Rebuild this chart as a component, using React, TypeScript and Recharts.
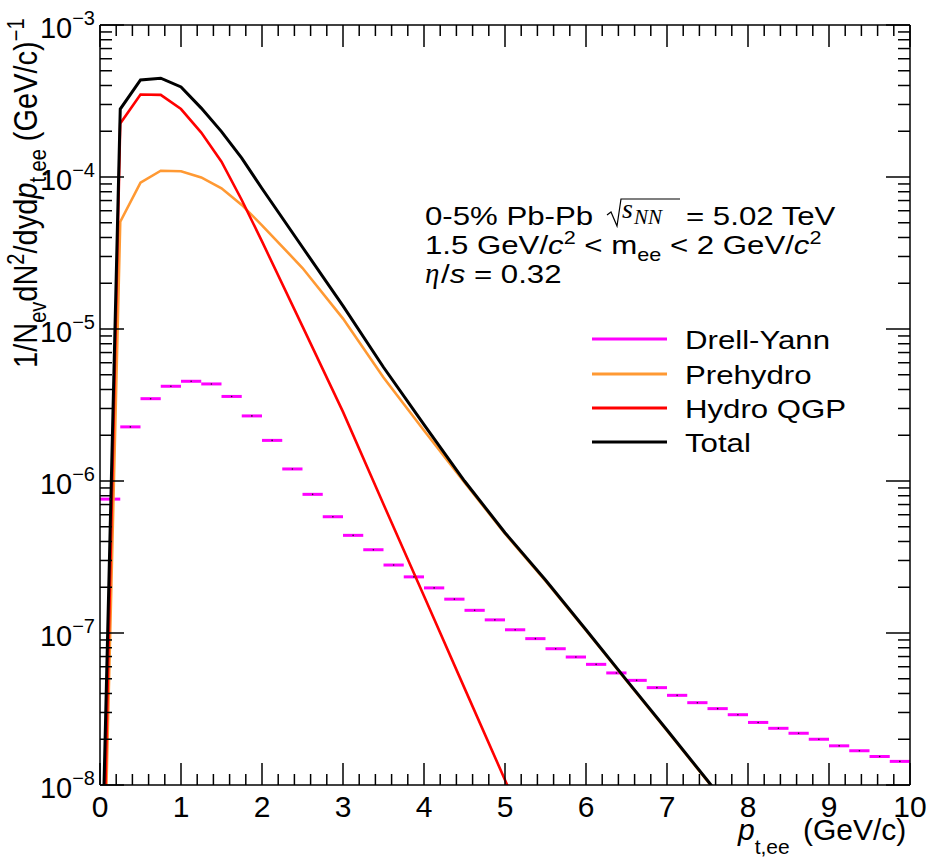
import React from "react";
import { ComposedChart, Line, Scatter, ErrorBar, XAxis, YAxis } from "recharts";

// Drell-Yan histogram: bin centres (0.25 GeV/c bins) and yields
const dyPt = [
  0.125, 0.375, 0.625, 0.875, 1.125, 1.375, 1.625, 1.875, 2.125, 2.375,
  2.625, 2.875, 3.125, 3.375, 3.625, 3.875, 4.125, 4.375, 4.625, 4.875,
  5.125, 5.375, 5.625, 5.875, 6.125, 6.375, 6.625, 6.875, 7.125, 7.375,
  7.625, 7.875, 8.125, 8.375, 8.625, 8.875, 9.125, 9.375, 9.625, 9.875,
];
const dyYield = [
  7.6e-7, 2.27e-6, 3.48e-6, 4.2e-6, 4.53e-6, 4.35e-6, 3.6e-6, 2.68e-6, 1.85e-6, 1.2e-6,
  8.17e-7, 5.82e-7, 4.39e-7, 3.53e-7, 2.8e-7, 2.34e-7, 1.98e-7, 1.67e-7, 1.41e-7, 1.22e-7,
  1.05e-7, 9.18e-8, 7.88e-8, 6.95e-8, 6.22e-8, 5.46e-8, 4.88e-8, 4.37e-8, 3.89e-8, 3.48e-8,
  3.18e-8, 2.9e-8, 2.58e-8, 2.36e-8, 2.19e-8, 2.0e-8, 1.81e-8, 1.68e-8, 1.54e-8, 1.43e-8,
];
const dyHalfBin = 0.125;

// smooth curves
const curvePt = [0, 0.25, 0.5, 0.75, 1, 1.25, 1.5, 1.75, 2, 2.5, 3, 3.5, 4, 4.5, 5, 5.5, 6, 6.5, 7, 7.5, 8];
const prehydro = [
  1.8e-10, 5.08e-5, 9.18e-5, 1.1e-4, 1.09e-4, 9.93e-5, 8.43e-5, 6.55e-5, 4.81e-5, 2.52e-5,
  1.17e-5, 4.8e-6, 2.15e-6, 9.8e-7, 4.5e-7, 2.2e-7, 1.04e-7, 4.85e-8, 2.28e-8, 1.06e-8, 4.8e-9,
];
const hydroQGP = [
  2.4e-10, 2.25e-4, 3.49e-4, 3.47e-4, 2.8e-4, 1.96e-4, 1.26e-4, 7.06e-5, 3.77e-5, 1.04e-5,
  2.85e-6, 7.03e-7, 1.75e-7, 4.34e-8, 1.08e-8, 2.6e-9,
];
const total = [
  8e-10, 2.8e-4, 4.35e-4, 4.47e-4, 3.91e-4, 2.84e-4, 1.99e-4, 1.33e-4, 8.4e-5, 3.45e-5,
  1.42e-5, 5.6e-6, 2.35e-6, 1.0e-6, 4.57e-7, 2.23e-7, 1.05e-7, 4.9e-8, 2.3e-8, 1.07e-8, 4.9e-9,
];

const xTicks = Array.from({ length: 51 }, (_, i) => (i * 2) / 10);
const yTicks: number[] = [];
for (let e = -8; e < -3; e++) {
  for (let m = 1; m <= 9; m++) yTicks.push(Number((m * Math.pow(10, e)).toPrecision(6)));
}
yTicks.push(1e-3);

const toPoints = (xs: number[], ys: number[]) => ys.map((y, i) => ({ x: xs[i], y }));
const dyData = dyPt.map((x, i) => ({ x, y: dyYield[i], ex: dyHalfBin }));

const SANS = "'Liberation Sans', Arial, Helvetica, sans-serif";
const SERIF = "'Liberation Serif', 'Times New Roman', serif";

const isDecade = (v: number) => {
  const l = Math.log10(v);
  return Math.abs(l - Math.round(l)) < 1e-6;
};
const isInt = (v: number) => Math.abs(v - Math.round(v)) < 1e-6;

const BottomTick = (props: any) => {
  const { x, y, payload } = props;
  const major = isInt(payload.value);
  return (
    <g>
      <line x1={x} y1={y} x2={x} y2={y - (major ? 22 : 11)} stroke="#000" strokeWidth={1.5} />
      {major && (
        <text x={x} y={y + 32} textAnchor="middle" fontSize={30} fontFamily={SANS} fill="#000">
          {Math.round(payload.value)}
        </text>
      )}
    </g>
  );
};

const TopTick = (props: any) => {
  const { x, y, payload } = props;
  const major = isInt(payload.value);
  return <line x1={x} y1={y} x2={x} y2={y + (major ? 22 : 11)} stroke="#000" strokeWidth={1.5} />;
};

const LeftTick = (props: any) => {
  const { x, y, payload } = props;
  const major = isDecade(payload.value);
  const e = Math.round(Math.log10(payload.value));
  return (
    <g>
      <line x1={x} y1={y} x2={x + (major ? 24 : 12)} y2={y} stroke="#000" strokeWidth={1.5} />
      {major && (
        <text x={x - 5} y={y + 13} textAnchor="end" fontSize={29} fontFamily={SANS} fill="#000">
          10<tspan dy={-13} fontSize={20}>{"\u2212" + -e}</tspan>
        </text>
      )}
    </g>
  );
};

const RightTick = (props: any) => {
  const { x, y, payload } = props;
  const major = isDecade(payload.value);
  return <line x1={x} y1={y} x2={x - (major ? 24 : 12)} y2={y} stroke="#000" strokeWidth={1.5} />;
};

const DyPoint = (props: any) => <circle cx={props.cx} cy={props.cy} r={0.8} fill="#222" />;

const legendRows = [
  { label: "Drell-Yann", color: "#ff00ff", y: 339 },
  { label: "Prehydro", color: "#ff9933", y: 374 },
  { label: "Hydro QGP", color: "#ff0000", y: 408 },
  { label: "Total", color: "#000000", y: 442 },
];

const Stretch = ({ x, y, sx = 1.2, size = 26, children }: any) => (
  <g transform={`translate(${x},${y}) scale(${sx},1)`}>
    <text x={0} y={0} fontSize={size} fontFamily={SANS} fill="#000">
      {children}
    </text>
  </g>
);

const Overlay = () => (
  <svg width={930} height={862} style={{ position: "absolute", left: 0, top: 0, pointerEvents: "none" }}>
    {/* y title */}
    <g transform="translate(37,368) rotate(-90) scale(1,1.15)">
      <text x={0} y={0} fontSize={29} fontFamily={SANS} fill="#000">
        1/N<tspan dy={8} fontSize={20}>ev</tspan>
        <tspan dy={-8}>dN</tspan>
        <tspan dy={-11} fontSize={20}>2</tspan>
        <tspan dy={11}>/dyd</tspan>
        <tspan fontStyle="italic">p</tspan>
        <tspan dy={8} fontSize={20}>t,ee</tspan>
        <tspan dy={-8}>{"  (GeV/c)"}</tspan>
        <tspan dy={-11} fontSize={20}>{"\u22121"}</tspan>
      </text>
    </g>
    {/* x title */}
    <text x={738} y={840} fontSize={30} fontFamily={SANS} fill="#000">
      <tspan fontStyle="italic">p</tspan>
      <tspan dy={14} fontSize={21}>t,ee</tspan>
      <tspan x={803} dy={-14}>(GeV/c)</tspan>
    </text>

    {/* annotation */}
    <Stretch x={425} y={225}>0-5% Pb-Pb</Stretch>
    <path d="M607,215 L611,212 L617,226 L621,199 L680,199" fill="none" stroke="#000" strokeWidth={1.2} />
    <text x={622} y={218} fontSize={28} fontFamily={SERIF} fontStyle="italic" fill="#000">s</text>
    <text x={634} y={224} fontSize={21} fontFamily={SERIF} fontStyle="italic" fill="#000">NN</text>
    <Stretch x={686} y={225}>= 5.02 TeV</Stretch>
    <Stretch x={425} y={254}>
      1.5 GeV/<tspan fontStyle="italic">c</tspan>
      <tspan dy={-10} fontSize={18}>2</tspan>
      <tspan dy={10}>{" < m"}</tspan>
      <tspan dy={7} fontSize={18}>ee</tspan>
      <tspan dy={-7}>{" < 2 GeV/"}</tspan>
      <tspan fontStyle="italic">c</tspan>
      <tspan dy={-10} fontSize={18}>2</tspan>
    </Stretch>
    <text x={425} y={283} fontSize={29} fontFamily={SERIF} fontStyle="italic" fill="#000">{"\u03b7"}</text>
    <Stretch x={441} y={283}>
      /<tspan fontStyle="italic">s</tspan> = 0.32
    </Stretch>

    {/* legend */}
    {legendRows.map((r) => (
      <g key={r.label}>
        <line x1={592} y1={r.y} x2={667} y2={r.y} stroke={r.color} strokeWidth={3} />
        <Stretch x={685} y={r.y + 10}>{r.label}</Stretch>
      </g>
    ))}
  </svg>
);

const axisLine = { stroke: "#000", strokeWidth: 1.5 };

export default function App() {
  return (
    <div style={{ position: "absolute", left: 0, top: 0, width: 930, height: 862, background: "#fff" }}>
      <ComposedChart width={930} height={862} margin={{ top: 15, right: 10, bottom: 37, left: 40 }}>
        <XAxis
          xAxisId="b"
          dataKey="x"
          type="number"
          domain={[0, 10]}
          allowDataOverflow
          ticks={xTicks}
          interval={0}
          height={40}
          tickSize={0}
          tickMargin={0}
          tickLine={false}
          axisLine={axisLine}
          tick={<BottomTick />}
        />
        <XAxis
          xAxisId="t"
          orientation="top"
          dataKey="x"
          type="number"
          domain={[0, 10]}
          allowDataOverflow
          ticks={xTicks}
          interval={0}
          height={10}
          tickSize={0}
          tickMargin={0}
          tickLine={false}
          axisLine={axisLine}
          tick={<TopTick />}
        />
        <YAxis
          yAxisId="l"
          dataKey="y"
          type="number"
          scale="log"
          domain={[1e-8, 1e-3]}
          allowDataOverflow
          ticks={yTicks}
          interval={0}
          width={60}
          tickSize={0}
          tickMargin={0}
          tickLine={false}
          axisLine={axisLine}
          tick={<LeftTick />}
        />
        <YAxis
          yAxisId="r"
          orientation="right"
          dataKey="y"
          type="number"
          scale="log"
          domain={[1e-8, 1e-3]}
          allowDataOverflow
          ticks={yTicks}
          interval={0}
          width={10}
          tickSize={0}
          tickMargin={0}
          tickLine={false}
          axisLine={axisLine}
          tick={<RightTick />}
        />
        <Scatter
          xAxisId="b"
          yAxisId="l"
          data={dyData}
          dataKey="y"
          shape={<DyPoint />}
          isAnimationActive={false}
        >
          <ErrorBar dataKey="ex" direction="x" width={0} stroke="#ff00ff" strokeWidth={3} isAnimationActive={false} />
        </Scatter>
        <Line
          xAxisId="b"
          yAxisId="l"
          data={toPoints(curvePt, prehydro)}
          dataKey="y"
          type="linear"
          stroke="#ff9933"
          strokeWidth={2.6}
          dot={false}
          isAnimationActive={false}
        />
        <Line
          xAxisId="b"
          yAxisId="l"
          data={toPoints(curvePt, hydroQGP)}
          dataKey="y"
          type="linear"
          stroke="#ff0000"
          strokeWidth={2.6}
          dot={false}
          isAnimationActive={false}
        />
        <Line
          xAxisId="b"
          yAxisId="l"
          data={toPoints(curvePt, total)}
          dataKey="y"
          type="linear"
          stroke="#000000"
          strokeWidth={3}
          dot={false}
          isAnimationActive={false}
        />
      </ComposedChart>
      <Overlay />
    </div>
  );
}
